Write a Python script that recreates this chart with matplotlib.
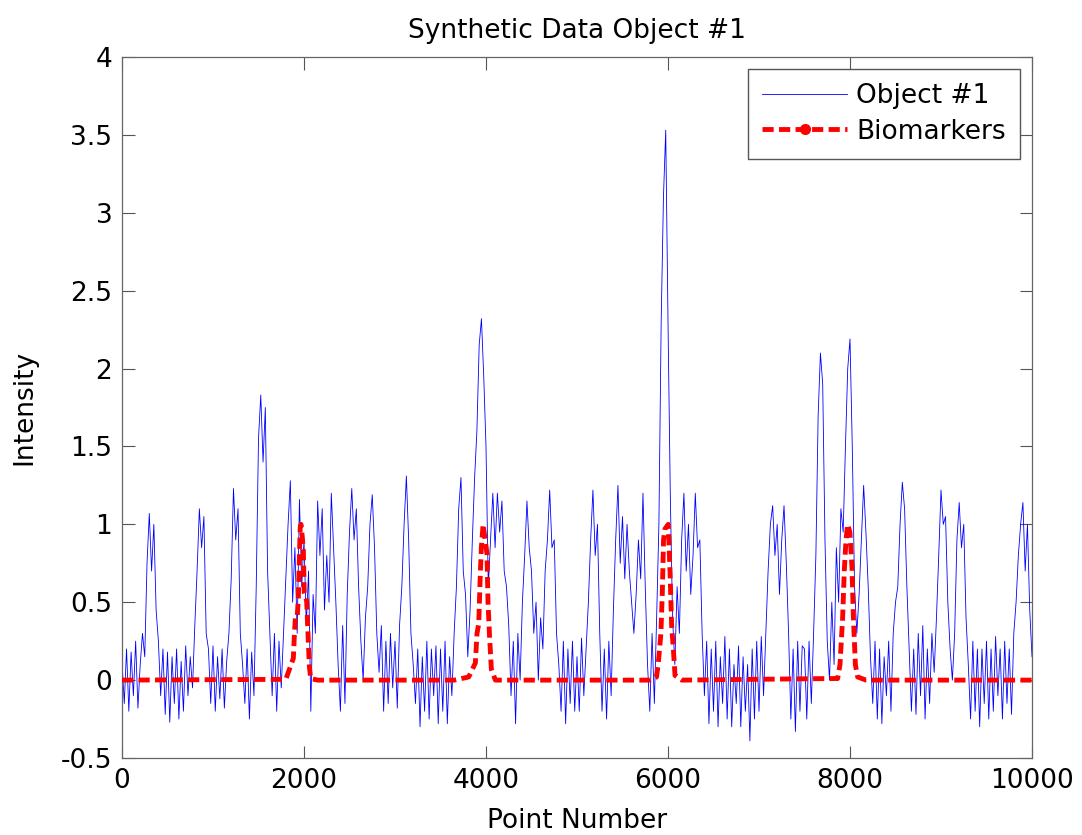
import matplotlib
matplotlib.use("Agg")
import matplotlib.pyplot as plt
from matplotlib.lines import Line2D
import numpy as np

# ---- data ----
step = 25  # spacing of the sampled points of Object #1
obj_values = [
    # 0 - 475
    0.12, -0.15, 0.2, -0.2, 0.18, -0.1, 0.25, -0.18, 0.1, 0.3, 0.15, 0.75, 1.07, 0.7, 1.0, 0.45, 0.25, -0.1, 0.2, -0.22,
    # 500 - 975
    0.18, -0.27, 0.15, -0.15, 0.2, -0.25, 0.12, -0.2, 0.22, -0.1, 0.15, -0.05, 0.35, 0.7, 1.1, 0.85, 1.05, 0.3, 0.2, -0.15,
    # 1000 - 1475
    0.22, -0.2, 0.15, -0.12, 0.2, -0.18, 0.12, 0.3, 0.65, 1.23, 0.9, 1.1, 0.3, 0.1, -0.15, 0.2, -0.25, 0.18, -0.1, 0.6,
    # 1500 - 1975
    1.55, 1.83, 1.4, 1.75, 0.7, 0.3, -0.1, 0.3, -0.2, 0.25, -0.05, 0.3, 0.65, 1.0, 1.28, 0.5, 0.85, 0.3, 1.16, 0.6,
    # 2000 - 2475
    0.9, 0.35, 0.7, -0.2, 0.55, 0.3, 1.15, 0.8, 1.1, 0.45, 0.8, 0.5, 1.2, 0.85, 0.5, 0.1, -0.2, 0.35, -0.15, 0.55,
    # 2500 - 2975
    0.95, 1.23, 0.9, 1.1, 0.6, 0.25, 0.0, 0.4, 0.6, 1.0, 1.19, 0.85, 0.3, 0.05, 0.35, -0.2, 0.25, -0.15, 0.3, -0.05,
    # 3000 - 3475
    0.25, -0.18, 0.35, 0.6, 1.0, 1.31, 0.9, 0.3, 0.1, -0.15, 0.2, -0.3, 0.15, -0.2, 0.25, -0.25, 0.2, -0.1, 0.22, -0.28,
    # 3500 - 3975
    0.2, -0.2, 0.25, -0.28, 0.15, -0.1, 0.3, 0.6, 1.1, 1.3, 0.7, 0.55, 0.15, 0.45, 0.9, 1.3, 1.6, 2.15, 2.32, 1.95,
    # 4000 - 4475
    1.5, 0.6, 0.9, 1.2, 0.85, 1.2, 0.95, 1.15, 0.7, 0.6, 0.35, -0.1, 0.25, -0.28, 0.3, 0.0, 0.5, 0.8, 1.15, 0.85,
    # 4500 - 4975
    0.7, 0.3, 0.5, 0.0, 0.4, 0.2, 0.7, 0.9, 1.22, 0.85, 0.9, 0.3, 0.1, -0.2, 0.25, -0.28, 0.2, -0.15, 0.25, -0.2,
    # 5000 - 5475
    0.15, -0.2, 0.27, -0.1, 0.2, 0.5, 0.9, 1.22, 0.8, 1.0, 0.3, -0.2, 0.2, -0.25, 0.25, -0.1, 0.45, 0.9, 1.25, 0.75,
    # 5500 - 5975
    1.05, 0.65, 1.0, 0.7, 0.5, 0.3, 0.55, 0.9, 0.65, 1.2, 0.6, 0.1, -0.2, 0.3, -0.15, 0.4, 1.0, 2.3, 3.1, 3.53,
    # 6000 - 6475
    2.3, 1.2, 0.4, 0.1, 0.6, 0.3, 0.9, 1.2, 0.7, 1.0, 0.55, 0.8, 1.2, 0.85, 0.9, 0.3, -0.1, 0.25, -0.28, 0.2,
    # 6500 - 6975
    -0.2, 0.25, -0.3, 0.15, -0.15, 0.28, -0.25, 0.2, -0.3, 0.1, -0.15, 0.22, -0.3, 0.15, -0.2, 0.1, -0.39, 0.2, -0.25, 0.25,
    # 7000 - 7475
    -0.2, 0.28, -0.1, 0.3, 0.7, 1.0, 1.12, 0.8, 1.0, 0.55, 0.9, 1.12, 0.75, 0.3, -0.25, 0.2, -0.33, 0.25, -0.2, 0.22,
    # 7500 - 7975
    0.2, -0.25, 0.25, -0.15, 0.3, 0.8, 1.7, 2.1, 1.9, 0.9, 0.25, 0.0, 0.5, 0.1, 0.85, 0.5, 1.1, 0.95, 1.5, 2.0,
    # 8000 - 8475
    2.19, 1.5, 0.6, 0.3, 0.55, 0.9, 1.25, 0.95, 0.6, 0.15, -0.15, 0.25, -0.25, 0.2, -0.28, 0.15, -0.1, 0.25, -0.2, 0.3,
    # 8500 - 8975
    0.5, 0.6, 1.0, 1.27, 1.1, 0.6, 0.2, -0.2, 0.2, -0.22, 0.3, -0.1, 0.35, -0.25, 0.2, -0.15, 0.3, 0.05, 0.4, 0.8,
    # 9000 - 9475
    1.22, 1.0, 1.05, 0.5, 0.2, 0.0, 0.3, 0.9, 1.14, 0.85, 1.0, 0.4, 0.1, -0.25, 0.25, -0.2, 0.2, -0.3, 0.2, -0.15,
    # 9500 - 9975
    0.25, -0.25, 0.2, -0.2, 0.28, -0.1, 0.2, -0.25, 0.25, -0.15, 0.2, -0.22, 0.3, 0.5, 0.8, 1.0, 1.14, 0.7, 1.0, 0.45,
    # 10000
    0.15,
]

bio_x = [0, 1800, 1883, 1895, 1905, 1925, 1938, 1949, 1958, 1967, 1981, 1993, 2003, 2029, 2048, 2059, 2073, 2150,
         3650, 3810, 3883, 3901, 3920, 3938, 3949, 3968, 3986, 4011, 4022, 4040, 4059, 4103,
         5800, 5874, 5892, 5922, 5937, 5951, 5966, 6003, 6022, 6040, 6059, 6077, 6151,
         7750, 7864, 7890, 7919, 7937, 7956, 7974, 7999, 8022, 8036, 8059, 8084, 8176, 10000]
bio_y = [0.0, 0.005, 0.14, 0.3, 0.4, 0.4, 0.53, 0.77, 0.98, 1.0, 0.92, 0.83, 0.56, 0.51, 0.24, 0.09, 0.01, 0.0,
         0.0, 0.02, 0.11, 0.3, 0.36, 0.69, 0.85, 1.0, 0.92, 0.81, 0.5, 0.27, 0.07, 0.0,
         0.0, 0.02, 0.1, 0.3, 0.55, 0.9, 0.97, 1.0, 0.7, 0.35, 0.2, 0.03, 0.0,
         0.01, 0.01, 0.1, 0.4, 0.7, 0.9, 1.0, 0.95, 0.72, 0.42, 0.1, 0.02, 0.0, 0.0]

x_ticks = [0, 2000, 4000, 6000, 8000, 10000]
y_ticks = [-0.5, 0, 0.5, 1, 1.5, 2, 2.5, 3, 3.5, 4]
y_tick_labels = ['-0.5', '0', '0.5', '1', '1.5', '2', '2.5', '3', '3.5', '4']

# ---- figure ----
plt.rcParams['font.family'] = ['DejaVu Sans']
fs = 19
fig = plt.figure(figsize=(10.82, 8.35), dpi=100)
ax = fig.add_axes([122 / 1082, 77 / 835, 910 / 1082, 701 / 835])

obj_x = np.arange(len(obj_values)) * step
ax.plot(obj_x, obj_values, color='#0000ff', lw=0.6, zorder=2)
ax.plot(bio_x, bio_y, color='#ff0000', lw=3.5, linestyle=(0, (2.3, 1.1)),
        zorder=3, solid_capstyle='butt', dash_capstyle='butt')

ax.set_xlim(0, 10000)
ax.set_ylim(-0.5, 4)
ax.set_xticks(x_ticks)
ax.set_xticklabels([str(t) for t in x_ticks])
ax.set_yticks(y_ticks)
ax.set_yticklabels(y_tick_labels)
ax.tick_params(direction='in', length=9, width=0.8, color='#555555',
               top=True, right=True, labelsize=fs, pad=7)
for s in ax.spines.values():
    s.set_color('#666666')
    s.set_linewidth(0.9)

ax.set_title('Synthetic Data Object #1', fontsize=fs, pad=14)
ax.set_xlabel('Point Number', fontsize=fs, labelpad=10)
ax.set_ylabel('Intensity', fontsize=fs, labelpad=17)

handles = [
    Line2D([], [], color='#0000ff', lw=0.6),
    Line2D([], [], color='#ff0000', lw=3.5, linestyle=(0, (2.3, 1.1)),
           marker='o', markersize=7),
]
leg = ax.legend(handles, ['Object #1', 'Biomarkers'], loc='upper right',
                fontsize=fs, fancybox=False, framealpha=1, edgecolor='#555555',
                handlelength=3.2, borderaxespad=0.45, borderpad=0.55,
                labelspacing=0.35, handletextpad=0.35)
leg.get_frame().set_linewidth(1.0)

fig.savefig('out.png', dpi=100)
